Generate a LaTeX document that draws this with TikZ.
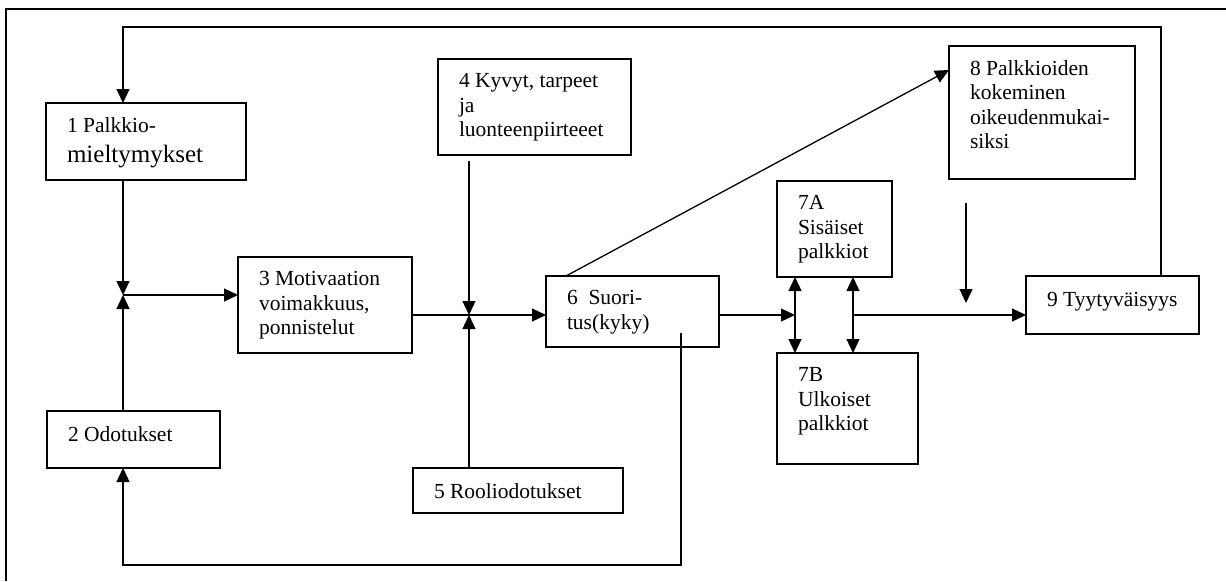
\documentclass[tikz,border=0pt]{standalone}
\usepackage{fontspec}
\setmainfont{Liberation Serif}
\usetikzlibrary{arrows.meta}

\begin{document}
\begin{tikzpicture}[x=1pt, y=-1pt,
  box/.style={draw, line width=1.3pt, inner sep=0pt, outer sep=0pt},
  lbl/.style={anchor=north west, inner sep=0pt, outer sep=0pt, align=left,
    font=\fontsize{21.5}{24.5}\selectfont,
    execute at begin node={\rule{0pt}{16pt}},
    xshift=21pt, yshift=-14.5pt},
  conn/.style={line width=1.3pt},
  arr/.style={conn, -{Triangle[length=14pt, width=13pt]}},
  darr/.style={conn, {Triangle[length=14pt, width=13pt]}-{Triangle[length=14pt, width=13pt]}}
]
\useasboundingbox (0,0) rectangle (1226,581);

% frame along the top and left edges
\draw[line width=2pt] (1226,8.5) -- (6,8.5) -- (6,581);

% boxes
\node[box, minimum width=200pt, minimum height=77pt]  (b1)  at (146,141.5) {};
\node[box, minimum width=173pt, minimum height=57pt]  (b2)  at (133.5,439.5) {};
\node[box, minimum width=174pt, minimum height=96pt]  (b3)  at (325,305) {};
\node[box, minimum width=193pt, minimum height=96pt]  (b4)  at (534.5,107) {};
\node[box, minimum width=210pt, minimum height=45pt]  (b5)  at (518,490.5) {};
\node[box, minimum width=173pt, minimum height=71pt]  (b6)  at (632.5,311.5) {};
\node[box, minimum width=115pt, minimum height=96pt]  (b7a) at (834.5,229) {};
\node[box, minimum width=141pt, minimum height=111pt] (b7b) at (847.5,408.5) {};
\node[box, minimum width=186pt, minimum height=133pt] (b8)  at (1042,112.5) {};
\node[box, minimum width=173pt, minimum height=58pt]  (b9)  at (1112.5,305) {};

% box texts
\node[lbl] (t1)  at (b1.north west)  {1 Palkkio-\\[5.5pt]{\fontsize{25}{30}\selectfont mieltymykset}};
\node[lbl] (t2)  at (b2.north west)  {2 Odotukset};
\node[lbl] (t3)  at (b3.north west)  {3 Motivaation\\voimakkuus,\\ponnistelut};
\node[lbl] (t4)  at (b4.north west)  {4 Kyvyt, tarpeet\\ja\\luonteenpiirteeet};
\node[lbl] (t5)  at (b5.north west)  {5 Rooliodotukset};
\node[lbl] (t6)  at (b6.north west)  {6~\ Suori-\\tus(kyky)};
\node[lbl] (t7a) at (b7a.north west) {7A\\Sisäiset\\palkkiot};
\node[lbl] (t7b) at (b7b.north west) {7B\\Ulkoiset\\palkkiot};
\node[lbl] (t8)  at (b8.north west)  {8 Palkkioiden\\kokeminen\\oikeudenmukai-\\siksi};
\node[lbl] (t9)  at (b9.north west)  {9 Tyytyväisyys};

% junctions and bends
\coordinate (j1) at (123,295);
\coordinate (j2) at (469,315);
\coordinate (j3) at (795,315);
\coordinate (j4) at (853,315);
\coordinate (fbA) at (1161,27);
\coordinate (fbB) at (123,27);
\coordinate (fbS) at (681,333);
\coordinate (fbC) at (681,565);
\coordinate (fbD) at (123,565);
\coordinate (c4) at (469,161);
\coordinate (c6) at (566,276);
\coordinate (c8) at (949,70);
\coordinate (c8s) at (966,203);
\coordinate (c8e) at (966,303);

% connectors
\draw[arr] (b9.north -| fbA) -- (fbA) -- (fbB) -- (fbB |- b1.north);
\draw[arr] (b1.south -| j1) -- (j1);
\draw[arr] (b2.north -| j1) -- (j1);
\draw[arr] (j1) -- (j1 -| b3.west);
\draw[arr] (c4) -- (j2);
\draw[arr] (b5.north -| j2) -- (j2);
\draw[arr] (b3.east |- j2) -- (j2 -| b6.west);
\draw[arr] (c6) -- (c8);
\draw[arr] (fbS) -- (fbC) -- (fbD) -- (fbD |- b2.south);
\draw[arr] (b6.east |- j3) -- (j3);
\draw[darr] (b7a.south -| j3) -- (b7b.north -| j3);
\draw[darr] (b7a.south -| j4) -- (b7b.north -| j4);
\draw[arr] (j4) -- (j4 -| b9.west);
\draw[arr] (c8s) -- (c8e);
\end{tikzpicture}
\end{document}
